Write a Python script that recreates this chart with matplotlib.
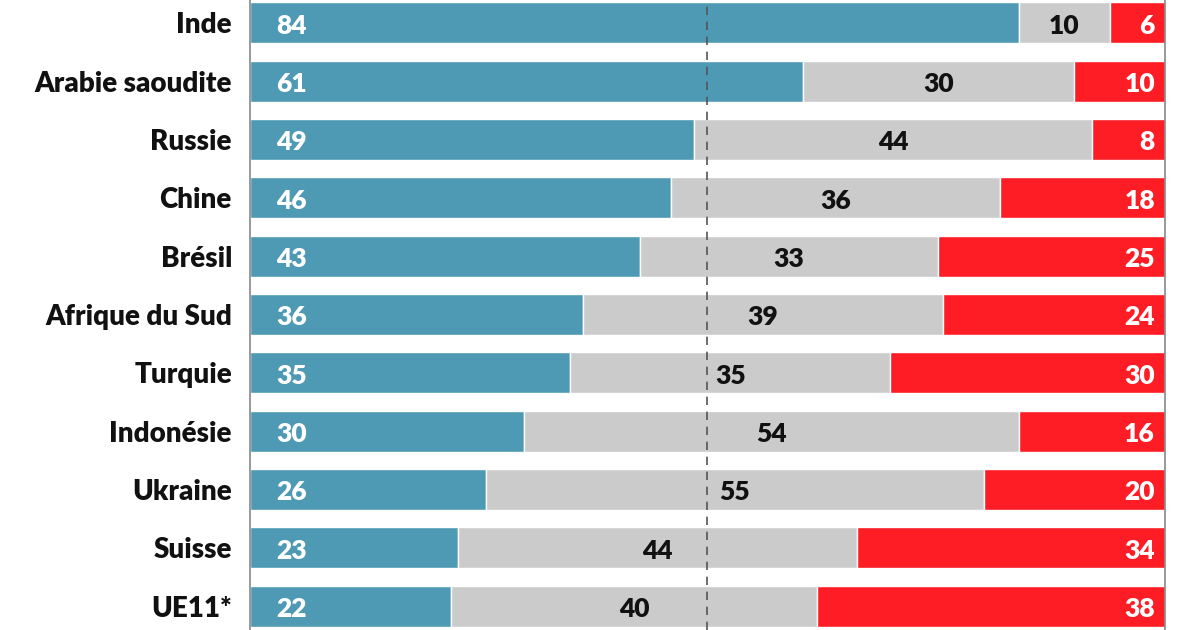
import matplotlib.pyplot as plt
import numpy as np

countries = ["Inde", "Arabie saoudite", "Russie", "Chine", "Brésil", "Afrique du Sud",
             "Turquie", "Indonésie", "Ukraine", "Suisse", "UE11*"]
blue_vals = [84, 61, 49, 46, 43, 36, 35, 30, 26, 23, 22]
grey_vals = [10, 30, 44, 36, 33, 39, 35, 54, 55, 44, 40]
red_vals = [6, 10, 8, 18, 25, 24, 30, 16, 20, 34, 38]

BLUE = "#4E9AB5"
GREY = "#CBCBCB"
RED = "#FF1D25"

plt.rcParams["font.family"] = ["Lato", "DejaVu Sans"]

b = np.array(blue_vals, dtype=float)
g = np.array(grey_vals, dtype=float)
r = np.array(red_vals, dtype=float)
tot = b + g + r
bn, gn, rn = b / tot * 100, g / tot * 100, r / tot * 100

fig = plt.figure(figsize=(12, 6.3), dpi=100)
ax = fig.add_axes([0.2083, 0.0, 0.7625, 1.0])

y = np.arange(len(countries))
h = 0.70
ax.barh(y, bn, height=h, color=BLUE, edgecolor="white", linewidth=1)
ax.barh(y, gn, left=bn, height=h, color=GREY, edgecolor="white", linewidth=1)
ax.barh(y, rn, left=bn + gn, height=h, color=RED, edgecolor="white", linewidth=1)

for i in range(len(countries)):
    ax.text(2.9, y[i] + 0.05, str(blue_vals[i]), color="white", fontsize=19,
            fontweight="heavy", ha="left", va="center")
    ax.text(bn[i] + gn[i] / 2, y[i] + 0.05, str(grey_vals[i]), color="#111111",
            fontsize=19, fontweight="heavy", ha="center", va="center")
    ax.text(98.9, y[i] + 0.05, str(red_vals[i]), color="white", fontsize=19,
            fontweight="heavy", ha="right", va="center")

ax.axvline(50, color="#555555", linestyle=(0, (5, 4)), linewidth=1.2, zorder=5)

ax.set_xlim(0, 100)
ax.set_ylim(10.41, -0.39)
ax.set_yticks(y)
ax.set_yticklabels(countries, fontsize=20, fontweight="heavy", color="#111111")
ax.tick_params(axis="y", length=0, pad=13)
ax.set_xticks([])

for s in ["top", "bottom"]:
    ax.spines[s].set_visible(False)
for s in ["left", "right"]:
    ax.spines[s].set_color("#888888")
    ax.spines[s].set_linewidth(1.2)

fig.savefig("out.png", dpi=100)
